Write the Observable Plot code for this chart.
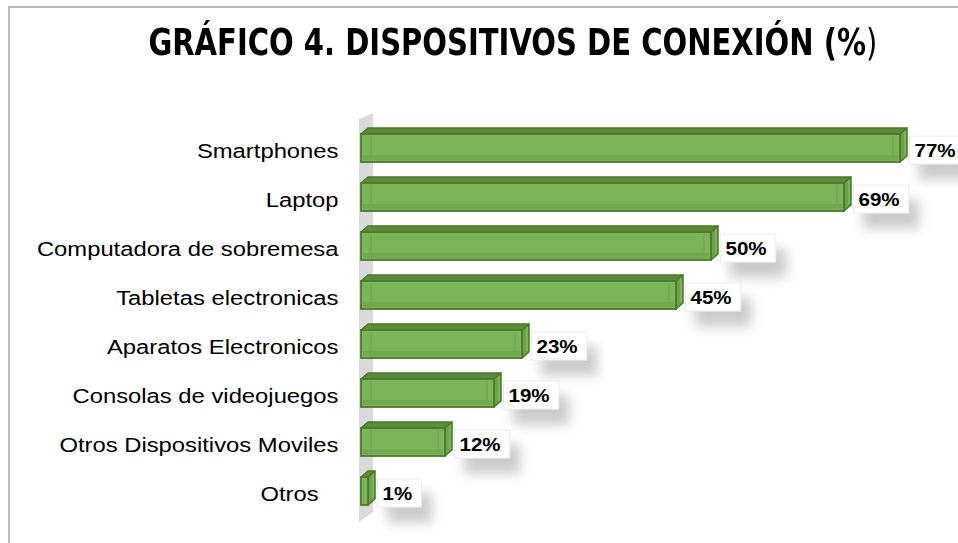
<!DOCTYPE html>
<html>
<head>
<meta charset="utf-8">
<script src="https://cdn.jsdelivr.net/npm/d3@7"></script>
<script src="https://cdn.jsdelivr.net/npm/@observablehq/plot@0.6"></script>
<style>
  html, body { margin: 0; padding: 0; background: #ffffff; }
  body { width: 958px; height: 543px; overflow: hidden; position: relative; font-family: "Liberation Sans", Arial, sans-serif; }
  #frame { position: absolute; left: 8px; top: 6px; width: 980px; height: 535px; border-top: 2px solid #b9b9b9; border-left: 2px solid #b9b9b9; pointer-events: none; }
  #titlebox { position: relative; height: 90px; width: 958px; }
  #title { position: absolute; left: 0; width: 1025px; top: 23px; text-align: center; white-space: nowrap;
           font-family: "Liberation Sans Narrow", "DejaVu Sans Condensed", "Liberation Sans", sans-serif;
           font-weight: bold; font-size: 38px; line-height: 1; color: #000; }
  #title span.inner { display: inline-block; transform-origin: 50% 50%; }
  #title span.thin { font-weight: normal; }
  #chart { position: relative; }
</style>
</head>
<body>
<div id="frame"></div>
<div id="titlebox"><div id="title"><span class="inner">GRÁFICO 4. DISPOSITIVOS DE CONEXIÓN (%<span class="thin">)</span></span></div></div>
<div id="chart"></div>
<script>
// ---- data ----
const categories = [
  "Smartphones",
  "Laptop",
  "Computadora de sobremesa",
  "Tabletas electronicas",
  "Aparatos Electronicos",
  "Consolas de videojuegos",
  "Otros Dispositivos Moviles",
  "Otros"
];
const values = [77, 69, 50, 45, 23, 19, 12, 1];
const valueLabels = ["77%", "69%", "50%", "45%", "23%", "19%", "12%", "1%"];

const data = categories.map((c, i) => ({category: c, value: values[i], label: valueLabels[i]}));

// ---- style constants ----
const DEPTH_X = 7, DEPTH_Y = 6;
const FRONT = "#7cb45a", TOP = "#5c8b3c", SIDE = "#6ca24a", EDGE = "#4a7a2a";

function bw(y) { return typeof y.bandwidth === "function" ? y.bandwidth() : y.bandwidth; }

// wall + top & side faces (behind the front faces)
function backFaces(index, scales, values, dims) {
  const x = scales.x, y = scales.y, b = bw(y);
  const g = d3.create("svg:g");
  const x0 = x(0);
  const wallTop = dims.marginTop + 8, wallBot = dims.height - dims.marginBottom - 6;
  g.append("polygon")
    .attr("points", [[x0 - 2, wallTop], [x0 - 2 + 2 * DEPTH_X, wallTop - DEPTH_Y], [x0 - 2 + 2 * DEPTH_X, wallBot - 10], [x0 - 2, wallBot]].map(p => p.join(",")).join(" "))
    .attr("fill", "#dadada");
  for (const d of data) {
    const y0 = y(d.category), y1 = y0 + b, xv = x(d.value);
    g.append("polygon")
      .attr("points", [[x0, y0], [x0 + DEPTH_X, y0 - DEPTH_Y], [xv + DEPTH_X, y0 - DEPTH_Y], [xv, y0]].map(p => p.join(",")).join(" "))
      .attr("fill", TOP).attr("stroke", EDGE).attr("stroke-width", 1.5).attr("stroke-linejoin", "round");
    g.append("polygon")
      .attr("points", [[xv, y0], [xv + DEPTH_X, y0 - DEPTH_Y], [xv + DEPTH_X, y1 - DEPTH_Y], [xv, y1]].map(p => p.join(",")).join(" "))
      .attr("fill", SIDE).attr("stroke", EDGE).attr("stroke-width", 1.5).attr("stroke-linejoin", "round");
    g.append("line")
      .attr("x1", xv + DEPTH_X - 2).attr("x2", xv + DEPTH_X - 2)
      .attr("y1", y0 - DEPTH_Y + 3).attr("y2", y1 - DEPTH_Y - 1)
      .attr("stroke", "#9fd07e").attr("stroke-width", 1).attr("opacity", 0.7);
  }
  return g.node();
}

// bevel details on the front faces
function bevel(index, scales, values, dims) {
  const x = scales.x, y = scales.y, b = bw(y);
  const g = d3.create("svg:g");
  const x0 = x(0);
  for (const d of data) {
    const y0 = y(d.category), y1 = y0 + b, xv = x(d.value);
    if (xv - x0 > 14) {
      g.append("rect").attr("x", x0 + 2).attr("y", y1 - 7).attr("width", xv - x0 - 4).attr("height", 5)
        .attr("fill", "#6ea84b").attr("opacity", 0.8);
      g.append("line").attr("x1", x0 + 10).attr("x2", x0 + 10).attr("y1", y0 + 2).attr("y2", y1 - 2)
        .attr("stroke", "#6ea84b").attr("stroke-width", 1);
      g.append("line").attr("x1", xv - 7).attr("x2", xv - 7).attr("y1", y0 + 2).attr("y2", y1 - 2)
        .attr("stroke", "#6ea84b").attr("stroke-width", 1);
    }
  }
  return g.node();
}

const plot = Plot.plot({
  width: 958,
  height: 453,
  marginLeft: 361,
  marginRight: 37,
  marginTop: 21,
  marginBottom: 15,
  style: {fontFamily: "'Liberation Sans', Arial, sans-serif", color: "#000", background: "transparent"},
  x: {domain: [0, 80], axis: null},
  y: {domain: categories, padding: 0.433, label: null},
  marks: [
    backFaces,
    Plot.barX(data, {x: "value", y: "category", fill: FRONT, stroke: EDGE, strokeWidth: 1.8}),
    bevel,
    Plot.text(data, {x: "value", y: "category", text: "label", textAnchor: "start", dx: 14, dy: 2,
      fontWeight: "bold", fontSize: 19, fill: "#000"}),
    Plot.axisY({tickSize: 0, tickPadding: 23, fontSize: 20, dy: 3.5, label: null,
      tickFormat: d => d === "Otros" ? d + "\u00a0\u00a0\u00a0" : d})
  ]
});

document.getElementById("chart").appendChild(plot);

// stretch text horizontally to match the reference glyph proportions; add label boxes
const catSet = new Set(categories), labSet = new Set(valueLabels);
plot.querySelectorAll("text").forEach(t => {
  const s = t.textContent.replace(/\u00a0/g, "");
  if (catSet.has(s)) {
    const w = t.getComputedTextLength();
    t.setAttribute("textLength", (w * 1.19).toFixed(1));
    t.setAttribute("lengthAdjust", "spacingAndGlyphs");
  } else if (labSet.has(s)) {
    const w = t.getComputedTextLength();
    t.setAttribute("textLength", (w * 1.08).toFixed(1));
    t.setAttribute("lengthAdjust", "spacingAndGlyphs");
  }
});
plot.querySelectorAll("text").forEach(t => {
  if (!labSet.has(t.textContent)) return;
  const bb = t.getBBox();
  const r = document.createElementNS("http://www.w3.org/2000/svg", "rect");
  const cy = bb.y + bb.height / 2;
  r.setAttribute("x", bb.x - 5);
  r.setAttribute("y", cy - 14);
  r.setAttribute("width", bb.width + 14);
  r.setAttribute("height", 28);
  r.setAttribute("fill", "#ffffff");
  r.setAttribute("stroke", "#ececec");
  r.setAttribute("stroke-width", 1);
  r.style.filter = "drop-shadow(10px 15px 6px rgba(0,0,0,0.2))";
  if (t.getAttribute("transform")) r.setAttribute("transform", t.getAttribute("transform"));
  t.parentNode.insertBefore(r, t);
});

// title width fit
const inner = document.querySelector("#title span.inner");
const tw = inner.getBoundingClientRect().width;
inner.style.transform = `scaleX(${(729 / tw).toFixed(4)})`;
</script>
</body>
</html>
